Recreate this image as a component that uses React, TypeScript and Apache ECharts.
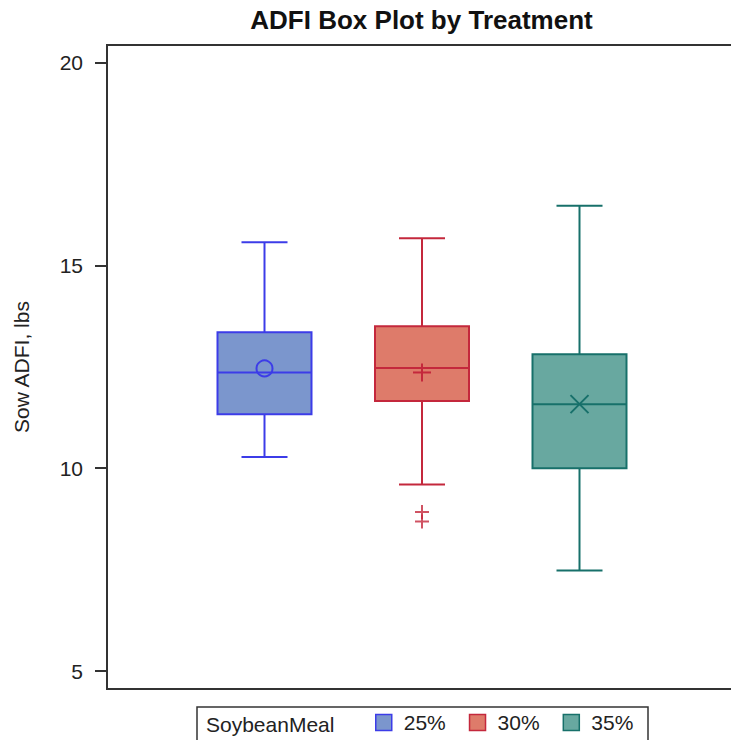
import React, { useEffect, useRef } from "react";
import * as echarts from "echarts";

const categories = ["25%", "30%", "35%"];
const lowerWhisker = [10.28, 9.6, 7.48];
const q1 = [11.33, 11.66, 10.0];
const median = [12.36, 12.47, 11.58];
const q3 = [13.35, 13.5, 12.81];
const upperWhisker = [15.57, 15.67, 16.47];
const means = [12.46, 12.36, 11.58];
const outliers30 = [8.92, 8.69];
const yTicks = [5, 10, 15, 20];

const fills = ["#7B96CD", "#DE7B6A", "#68A8A0"];
const borders = ["#3C3CE8", "#C4283C", "#17706A"];
const meanShapes = ["circle", "plus", "x"];
const FONT = "'Liberation Sans', Arial, Helvetica, sans-serif";

export default function App() {
  const ref = useRef<HTMLDivElement>(null);
  useEffect(() => {
    if (!ref.current) return;
    const chart = echarts.init(ref.current, undefined, { renderer: "svg" });

    const boxSeries = categories.map((name, i) => ({
      name,
      type: "custom",
      xAxisIndex: 0,
      yAxisIndex: 0,
      itemStyle: { color: fills[i], borderColor: borders[i] },
      encode: { x: 0, y: [1, 2, 3, 4, 5] },
      data: [[i + 1, lowerWhisker[i], q1[i], median[i], q3[i], upperWhisker[i], means[i]]],
      renderItem: (params: any, api: any) => {
        const x = api.value(0);
        const pLow = api.coord([x, api.value(1)]);
        const pQ1 = api.coord([x, api.value(2)]);
        const pMed = api.coord([x, api.value(3)]);
        const pQ3 = api.coord([x, api.value(4)]);
        const pHigh = api.coord([x, api.value(5)]);
        const pMean = api.coord([x, api.value(6)]);
        const cx = pLow[0];
        const hw = 47;
        const cw = 23;
        const stroke = borders[i];
        const ls = { stroke, lineWidth: 2, fill: "none" };
        const children: any[] = [
          { type: "line", shape: { x1: cx, y1: pLow[1], x2: cx, y2: pQ1[1] }, style: ls },
          { type: "line", shape: { x1: cx, y1: pQ3[1], x2: cx, y2: pHigh[1] }, style: ls },
          { type: "line", shape: { x1: cx - cw, y1: pLow[1], x2: cx + cw, y2: pLow[1] }, style: ls },
          { type: "line", shape: { x1: cx - cw, y1: pHigh[1], x2: cx + cw, y2: pHigh[1] }, style: ls },
          {
            type: "rect",
            shape: { x: cx - hw, y: pQ3[1], width: hw * 2, height: pQ1[1] - pQ3[1] },
            style: { fill: fills[i], stroke, lineWidth: 2 },
          },
          { type: "line", shape: { x1: cx - hw, y1: pMed[1], x2: cx + hw, y2: pMed[1] }, style: ls },
        ];
        const my = pMean[1];
        const shape = meanShapes[i];
        if (shape === "circle") {
          children.push({ type: "circle", shape: { cx, cy: my, r: 8 }, style: ls });
        } else if (shape === "plus") {
          children.push({ type: "line", shape: { x1: cx - 9, y1: my, x2: cx + 9, y2: my }, style: ls });
          children.push({ type: "line", shape: { x1: cx, y1: my - 9, x2: cx, y2: my + 9 }, style: ls });
        } else {
          children.push({ type: "line", shape: { x1: cx - 9, y1: my - 9, x2: cx + 9, y2: my + 9 }, style: ls });
          children.push({ type: "line", shape: { x1: cx - 9, y1: my + 9, x2: cx + 9, y2: my - 9 }, style: ls });
        }
        return { type: "group", children };
      },
    }));

    const outlierSeries = {
      name: "30%",
      type: "scatter",
      symbol: "path://M0,7L14,7M7,0L7,14",
      symbolSize: 14,
      itemStyle: { color: "none", borderColor: borders[1], borderWidth: 2 },
      data: outliers30.map((v) => [2, v]),
      z: 3,
    };

    chart.setOption({
      animation: false,
      grid: {
        left: 107,
        top: 45,
        width: 630,
        bottom: 51,
        show: true,
        borderColor: "#333",
        borderWidth: 2,
        backgroundColor: "transparent",
      },
      xAxis: {
        type: "value",
        min: 0,
        max: 4,
        show: false,
      },
      yAxis: {
        type: "value",
        min: 4.56,
        max: 20.43,
        name: "Sow ADFI, lbs",
        nameLocation: "middle",
        nameGap: 75,
        nameTextStyle: { fontFamily: FONT, fontSize: 21, color: "#222" },
        axisLine: { show: true, lineStyle: { color: "#333", width: 2 } },
        axisTick: { show: true, length: 12, customValues: yTicks, lineStyle: { color: "#333", width: 2 } },
        axisLabel: {
          customValues: yTicks,
          margin: 24,
          fontFamily: FONT,
          fontSize: 21,
          color: "#222",
        },
        splitLine: { show: false },
      },
      legend: {
        left: 375,
        top: 712,
        padding: 0,
        itemWidth: 16,
        itemHeight: 16,
        itemGap: 23,
        textStyle: { fontFamily: FONT, fontSize: 21, color: "#222", padding: [0, 0, 0, 7] },
        data: categories.map((name, i) => ({
          name,
          icon: "rect",
          itemStyle: { color: fills[i], borderColor: borders[i], borderWidth: 1.5 },
        })),
      },
      graphic: [
        {
          type: "text",
          x: 421.5,
          y: 20,
          style: {
            text: "ADFI Box Plot by Treatment",
            fontFamily: FONT,
            fontSize: 26,
            fontWeight: "bold",
            fill: "#111",
            textAlign: "center",
            textVerticalAlign: "middle",
          },
        },
        {
          type: "rect",
          shape: { x: 197, y: 707, width: 451, height: 40 },
          style: { fill: "none", stroke: "#333", lineWidth: 1.5 },
        },
        {
          type: "text",
          x: 206,
          y: 724,
          style: {
            text: "SoybeanMeal",
            fontFamily: FONT,
            fontSize: 21,
            fill: "#222",
            textVerticalAlign: "middle",
          },
        },
      ],
      series: [...boxSeries, outlierSeries],
    });
    return () => chart.dispose();
  }, []);
  return (
    <div
      style={{ position: "absolute", left: 0, top: 0, width: 731, height: 740, overflow: "hidden" }}
    >
      <div ref={ref} style={{ width: 745, height: 740 }} />
    </div>
  );
}
